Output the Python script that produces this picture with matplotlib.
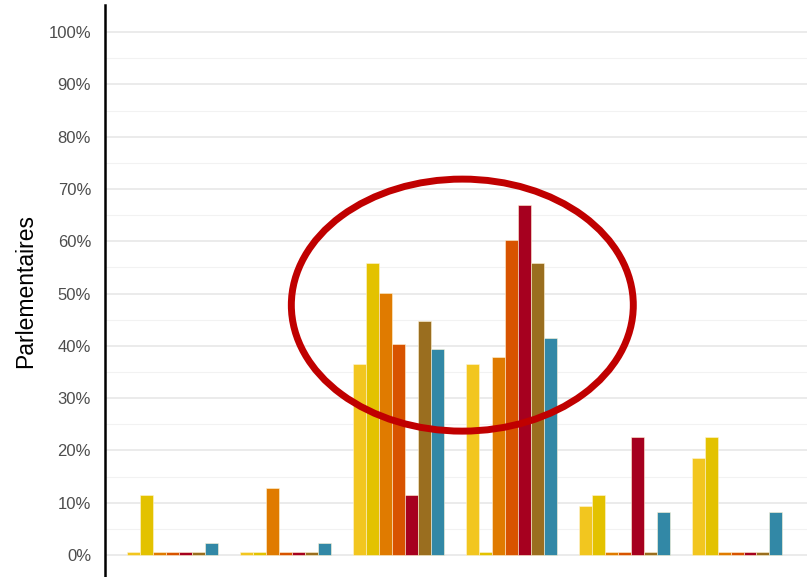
import numpy as np
import matplotlib.pyplot as plt
from matplotlib.patches import Ellipse
from matplotlib.ticker import FuncFormatter

plt.rcParams['font.family'] = ['Liberation Sans', 'DejaVu Sans']

# valeurs (en %)
groupes = ['G1', 'G2', 'G3', 'G4', 'G5', 'G6']
serie1 = [0, 0, 36.5, 36.5, 9.4, 18.6]
serie2 = [11.5, 0, 55.8, 0, 11.4, 22.5]
serie3 = [0, 12.8, 50.2, 37.8, 0, 0]
serie4 = [0, 0, 40.3, 60.3, 0, 0]
serie5 = [0, 0, 11.4, 67.0, 22.5, 0]
serie6 = [0, 0, 44.8, 55.8, 0, 0]
serie7 = [2.3, 2.3, 39.5, 41.5, 8.2, 8.2]

series = [serie1, serie2, serie3, serie4, serie5, serie6, serie7]
couleurs = ['#F2C61F', '#E3C200', '#E07B00', '#D85300', '#A6001F', '#9A6E1F', '#3288A6']

fig = plt.figure(figsize=(8.07, 5.77), dpi=100)
ax = fig.add_axes([105/807, 0, 1 - 105/807, 1 - 5/577])

x = np.arange(len(groupes))
w = 0.115
for i, (vals, c) in enumerate(zip(series, couleurs)):
    h = np.maximum(np.array(vals), 0.5)  # les zéros restent visibles
    ax.bar(x + (i - 3) * w, h, width=w, color=c, edgecolor='#FFF4D6', linewidth=0.4, zorder=3)

# ellipse rouge
ax.add_patch(Ellipse((2.566, 47.8), 3.03, 48.2, fill=False, edgecolor='#C00000',
                     linewidth=5, zorder=5, clip_on=False))

ax.set_xlim(-0.6, 5.62)
ax.set_ylim(-4.2, 105.2)
ax.yaxis.set_major_formatter(FuncFormatter(lambda v, p: '%d%%' % v))
ax.set_yticks([v for v in range(0, 101, 10)])
ax.set_yticks([v for v in range(5, 101, 10)], minor=True)
ax.grid(True, axis='y', which='major', color='#EBEBEB', linewidth=1.4, zorder=0)
ax.grid(True, axis='y', which='minor', color='#F2F2F2', linewidth=0.8, zorder=0)
ax.set_xticks([])
ax.tick_params(axis='y', which='both', length=0, labelsize=12, labelcolor='#4D4D4D', pad=10)
ax.set_ylabel('Parlementaires', fontsize=16.5, color='black', labelpad=8)

for s in ['top', 'right', 'bottom']:
    ax.spines[s].set_visible(False)
ax.spines['left'].set_linewidth(1.8)
ax.spines['left'].set_color('black')

plt.savefig('out.png', dpi=100)
